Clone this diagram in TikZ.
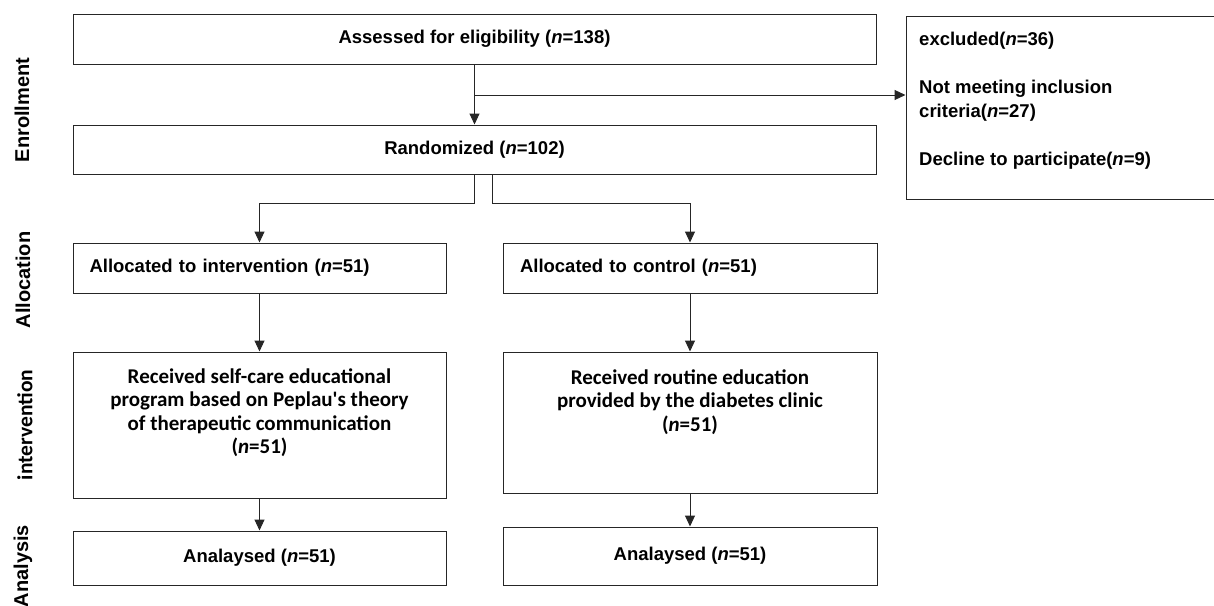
\documentclass[tikz,border=0pt]{standalone}
\usepackage{fontspec}
\setmainfont{Liberation Sans}
\newfontfamily\calfont{Carlito}
\usetikzlibrary{arrows.meta,calc}
\begin{document}
\begin{tikzpicture}[x=1pt,y=-1pt,
  box/.style={draw=black!85, line width=1pt, rectangle, inner sep=0pt},
  txt/.style={font=\bfseries\fontsize{18.5}{24.5}\selectfont},
  ct/.style={font=\calfont\bfseries\fontsize{21}{23.5}\selectfont, align=center, inner sep=0pt},
  lab/.style={font=\bfseries\fontsize{20}{24}\selectfont, rotate=90, inner sep=0pt},
  arr/.style={draw=black!85, line width=1pt, -{Triangle[width=10pt,length=11pt]}}]
\useasboundingbox (0,0) rectangle (1214,605);

% stage labels
\node[lab] (lenr) at (22,110) {Enrollment};
\node[lab] (lall) at (23,280) {Allocation};
\node[lab, font=\calfont\bfseries\fontsize{21.5}{24}\selectfont] (lint) at (25,425) {intervention};
\node[lab] (lana) at (23,566) {Analysis};

% boxes
\node[box, txt, minimum width=803pt, minimum height=50pt] (assess) at (474.5,39) {Assessed for eligibility (\textit{n}=138)};
\node[box, txt, minimum width=803pt, minimum height=49pt] (rand) at (474.5,149.5) {Randomized (\textit{n}=102)};
\node[box, minimum width=310pt, minimum height=183pt] (excl) at (1061,107.5) {};
\node[txt, anchor=north west, inner sep=0pt, align=left] (exclt) at (919,32)
  {excluded(\textit{n}=36)\\[23pt]Not meeting inclusion\\criteria(\textit{n}=27)\\[23pt]Decline to participate(\textit{n}=9)};

\node[box, txt, minimum width=373pt, minimum height=50pt, text width=340pt, align=left] (al1) at (259.5,268) {Allocated to intervention (\textit{n}=51)};
\node[box, txt, minimum width=374pt, minimum height=50pt, text width=340pt, align=left] (al2) at (690,268) {Allocated to control (\textit{n}=51)};

\node[box, minimum width=373pt, minimum height=146pt] (in1) at (259.5,425) {};
\node[ct, anchor=north] (in1t) at ($(in1.north)+(0,17)$)
  {Received self-care educational\\program based on Peplau's theory\\of therapeutic communication\\(\textit{n}=51)};
\node[box, minimum width=374pt, minimum height=141pt] (in2) at (690,422.5) {};
\node[ct, anchor=north] (in2t) at ($(in2.north)+(0,18)$)
  {Received routine education\\provided by the diabetes clinic\\(\textit{n}=51)};

\node[box, txt, minimum width=373pt, minimum height=54pt] (an1) at (259.5,558) {Analaysed (\textit{n}=51)};
\node[box, txt, minimum width=374pt, minimum height=58pt] (an2) at (690,556) {Analaysed (\textit{n}=51)};

% connectors
\coordinate (br) at (474.5,95);
\draw[arr] (assess.south) -- (rand.north);
\draw[arr] (br) -- (br -| excl.west);

\coordinate (s1) at (474.5,203);
\coordinate (s2a) at (492,174);
\coordinate (s2) at (492,203);
\draw[arr] (rand.south) -- (s1) -| (al1.north);
\draw[arr] (s2a) -- (s2) -| (al2.north);

\draw[arr] (al1.south) -- (in1.north);
\draw[arr] (al2.south) -- (in2.north);
\draw[arr] (in1.south) -- (an1.north);
\draw[arr] (in2.south) -- (an2.north);
\end{tikzpicture}
\end{document}
